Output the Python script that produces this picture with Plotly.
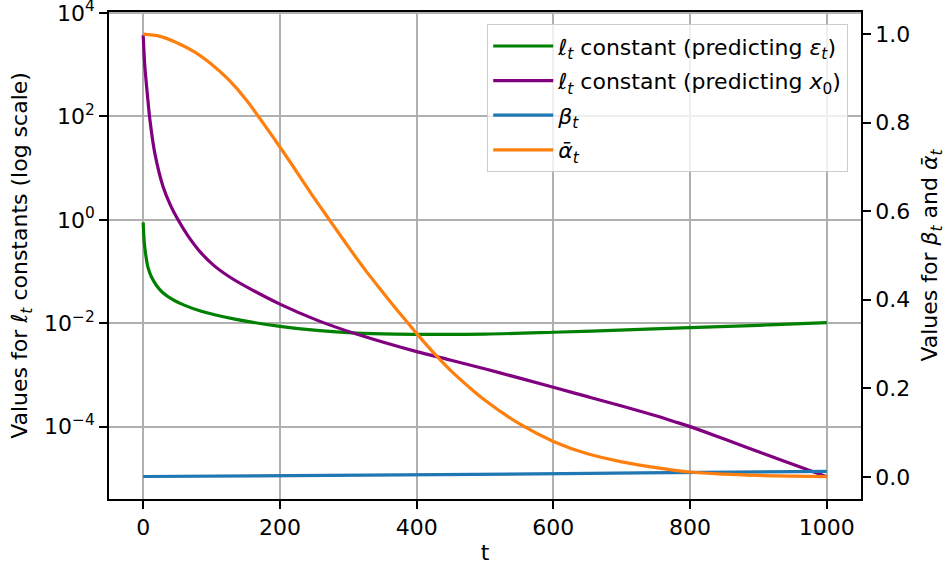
import plotly.graph_objects as go

# ---- data ----
t_green = [0, 0.7, 1.5, 2.5, 4, 7, 12, 19.5, 28, 44, 60, 85, 134, 200, 254, 312, 370, 430, 500, 600, 727, 800, 900, 1000]
log_green = [-0.05, -0.25, -0.42, -0.55, -0.70, -0.92, -1.10, -1.27, -1.40, -1.55, -1.65, -1.77, -1.92,
             -2.06, -2.14, -2.19, -2.21, -2.215, -2.21, -2.175, -2.12, -2.085, -2.04, -1.99]

t_purple = [0, 1, 2, 3, 5, 7, 9.8, 17, 29, 40, 51, 65, 85, 105, 130, 160, 200, 254, 312, 400, 449, 522,
            600, 650, 700, 750, 775, 800, 850, 907, 950, 1000]
log_purple = [3.57, 3.30, 3.05, 2.87, 2.58, 2.30, 1.94, 1.29, 0.645, 0.28, 0.0, -0.30, -0.645, -0.90,
              -1.135, -1.36, -1.63, -1.94, -2.21, -2.55, -2.71, -2.96, -3.24, -3.42, -3.60, -3.79,
              -3.895, -4.00, -4.24, -4.52, -4.73, -4.97]

t_beta = [0, 434, 727, 1000]
beta = [0.0008, 0.005, 0.009, 0.0126]

t_abar = [0, 25, 50, 75, 100, 125, 150, 175, 200, 225, 250, 275, 300, 325, 350, 375, 400, 425, 450,
          475, 500, 550, 600, 650, 700, 750, 800, 850, 900, 950, 1000]
abar = [1.000, 0.995, 0.980, 0.960, 0.932, 0.897, 0.853, 0.800, 0.745, 0.688, 0.630, 0.575, 0.520,
        0.467, 0.418, 0.370, 0.324, 0.280, 0.240, 0.205, 0.173, 0.120, 0.080, 0.052, 0.034, 0.021,
        0.011, 0.006, 0.0032, 0.0015, 0.0005]

x_ticks = [0, 200, 400, 600, 800, 1000]
left_tickvals = [1e-4, 1e-2, 1, 1e2, 1e4]
left_ticktext = ["10<sup>\u22124</sup>", "10<sup>\u22122</sup>", "10<sup>0</sup>", "10<sup>2</sup>", "10<sup>4</sup>"]
right_tickvals = [0.0, 0.2, 0.4, 0.6, 0.8, 1.0]
right_ticktext = ["0.0", "0.2", "0.4", "0.6", "0.8", "1.0"]

green_vals = [10 ** v for v in log_green]
purple_vals = [10 ** v for v in log_purple]

FONT = "DejaVu Sans"
FS = 22
LW = 3.2

fig = go.Figure()
fig.add_trace(go.Scatter(x=t_green, y=green_vals, mode="lines", yaxis="y",
                         line=dict(color="green", width=LW, shape="spline", smoothing=1.0),
                         name="<i>\u2113</i><sub><i>t</i></sub> constant (predicting <i>\u03b5</i><sub><i>t</i></sub>)",
                         legendgroup="g1"))
fig.add_trace(go.Scatter(x=t_purple, y=purple_vals, mode="lines", yaxis="y",
                         line=dict(color="purple", width=LW, shape="spline", smoothing=1.0),
                         name="<i>\u2113</i><sub><i>t</i></sub> constant (predicting <i>x</i><sub>0</sub>)",
                         legendgroup="g2"))
fig.add_trace(go.Scatter(x=t_beta, y=beta, mode="lines", yaxis="y2",
                         line=dict(color="#1f77b4", width=LW, shape="spline", smoothing=1.0),
                         name="<i>\u03b2</i><sub><i>t</i></sub>", legendgroup="g3"))
fig.add_trace(go.Scatter(x=t_abar, y=abar, mode="lines", yaxis="y2",
                         line=dict(color="#ff7f0e", width=LW, shape="spline", smoothing=1.0),
                         name="<i>\u1fb1</i><sub><i>t</i></sub>", legendgroup="g4"))

axis_common = dict(showline=True, linecolor="black", linewidth=1.8, ticks="outside", ticklen=8,
                   tickwidth=1.8, tickcolor="black", zeroline=False, automargin=False,
                   ticklabeloverflow="allow",
                   tickfont=dict(family=FONT, size=FS, color="black"))

fig.update_layout(
    width=946, height=569,
    margin=dict(l=109, r=85, t=12, b=70),
    plot_bgcolor="white", paper_bgcolor="white",
    font=dict(family=FONT, size=FS, color="black"),
    showlegend=True,
    legend=dict(x=0.983, y=0.975, xanchor="right", yanchor="top",
                bgcolor="rgba(255,255,255,0.8)", bordercolor="#cccccc", borderwidth=1,
                font=dict(family=FONT, size=FS, color="black"), itemwidth=60,
                tracegroupgap=3),
    xaxis=dict(range=[-50, 1050], tickvals=x_ticks, mirror=True, showgrid=True,
               gridcolor="#b0b0b0", gridwidth=1.8,
               title=dict(text="t", standoff=5, font=dict(family=FONT, size=FS)), **axis_common),
    yaxis=dict(type="log", range=[-5.40, 4.02], tickvals=left_tickvals, ticktext=left_ticktext,
               showgrid=True, gridcolor="#b0b0b0", gridwidth=1.8,
               title=dict(text="Values for <i>\u2113</i><sub><i>t</i></sub> constants (log scale)",
                          standoff=10, font=dict(family=FONT, size=FS)), **axis_common),
    yaxis2=dict(overlaying="y", side="right", range=[-0.05, 1.05], tickvals=right_tickvals,
                ticktext=right_ticktext, showgrid=False,
                title=dict(text="Values for <i>\u03b2</i><sub><i>t</i></sub> and <i>\u1fb1</i><sub><i>t</i></sub>",
                           standoff=29, font=dict(family=FONT, size=FS)), **axis_common),
)

# remove the browser's default 8px page margin so the figure sits at the window origin
fig.write_html("out.html", config={"displayModeBar": False},
               post_script="document.body.style.margin='0';")
